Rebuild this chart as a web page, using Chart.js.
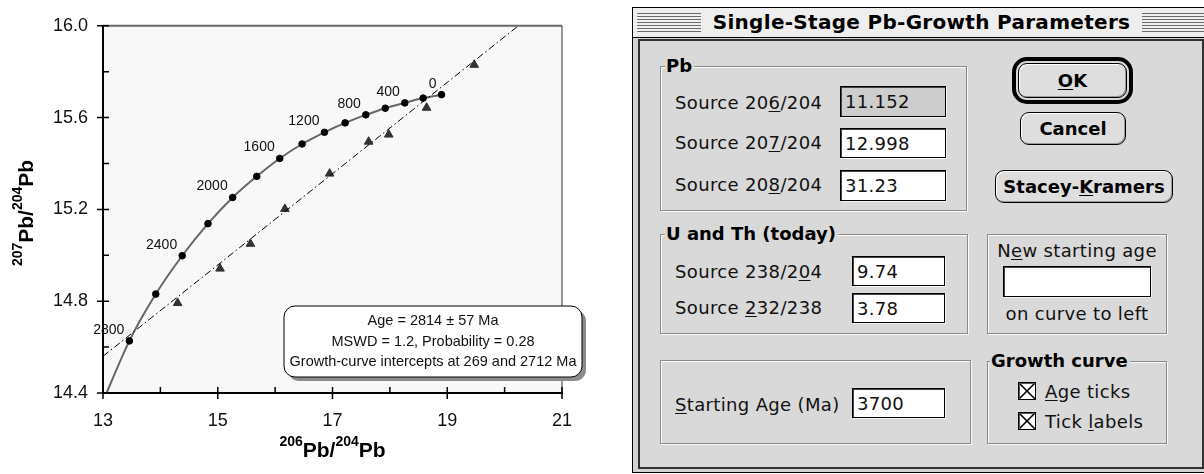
<!DOCTYPE html>
<html>
<head>
<meta charset="utf-8">
<script src="https://cdn.jsdelivr.net/npm/chart.js@4"></script>
<style>
  body { margin: 0; width: 1204px; height: 474px; position: relative; overflow: hidden; background: #fff; font-family: "DejaVu Sans", sans-serif; }
  #plot { position: absolute; left: 0; top: 0; width: 620px; height: 474px; }
  .abs { position: absolute; box-sizing: border-box; }
  #win { left: 632px; top: 7px; width: 576px; height: 466px; border: 1px solid #000; background: #d2d2d2; }
  .tbar { left: 633px; top: 8px; width: 572px; height: 30px; background: #eeeeee; border-bottom: 1px solid #000; }
  .stripes { top: 13px; height: 21px; background: repeating-linear-gradient(to bottom, #6a6a6a 0 1px, #efefef 1px 3px); }
  .title { left: 701px; top: 8px; width: 441px; height: 29px; line-height: 29px; text-align: center; font-weight: bold; font-size: 20px; letter-spacing: 0.3px; color: #000; }
  .content { left: 638px; top: 39px; width: 566px; height: 430px; border: 2px solid #303030; background: #d9d9d9; }
  .grp { border: 1px solid #8a8a8a; box-shadow: 1px 1px 0 #fafafa, inset 1px 1px 0 #fafafa; }
  .glab { font-weight: bold; font-size: 18px; line-height: 22px; background: #d9d9d9; padding: 0 2px 0 1px; color: #000; }
  .lab { font-size: 18px; line-height: 22px; letter-spacing: 0.35px; color: #111; white-space: nowrap; }
  .fld { border: 1px solid #000; box-shadow: inset 1px 1px 0 #444, 1px 1px 0 #f6f6f6; background: #fff; font-size: 18px; padding-left: 4px; letter-spacing: 0.3px; display: flex; align-items: center; color: #111; }
  .btn { border: 1.5px solid #000; border-radius: 9px; background: #dedede; box-shadow: inset 1px 1px 0 #fff, inset -1px -1px 0 #9a9a9a; display: flex; align-items: center; justify-content: center; font-weight: bold; font-size: 18px; color: #000; }
  .ring { border: 4px solid #000; border-radius: 15px; }
  .chk { width: 18px; height: 18px; border: 1px solid #000; box-shadow: inset 1px 1px 0 #555;
    background: linear-gradient(to top right, transparent calc(50% - 1px), #000 calc(50% - 0.5px), #000 calc(50% + 0.5px), transparent calc(50% + 1px)),
                linear-gradient(to bottom right, transparent calc(50% - 1px), #000 calc(50% - 0.5px), #000 calc(50% + 0.5px), transparent calc(50% + 1px)), #fff; }
  u { text-underline-offset: 2px; }
</style>
</head>
<body>
<div id="plot"><canvas id="canvas" width="620" height="474"></canvas></div>

<div id="win" class="abs"></div>
<div class="abs tbar"></div>
<div class="abs stripes" style="left:637px;width:64px"></div>
<div class="abs stripes" style="left:1142px;width:64px"></div>
<div class="abs title">Single-Stage Pb-Growth Parameters</div>
<div class="abs content"></div>

<div class="abs grp" style="left:660px;top:66px;width:307px;height:145px"></div>
<div class="abs grp" style="left:660px;top:234px;width:308px;height:100px"></div>
<div class="abs grp" style="left:660px;top:360px;width:311px;height:84px"></div>
<div class="abs grp" style="left:987px;top:234px;width:180px;height:100px"></div>
<div class="abs grp" style="left:987px;top:361px;width:180px;height:83px"></div>

<div class="abs glab" style="left:665px;top:55px">Pb</div>
<div class="abs glab" style="left:665px;top:223px">U and Th (today)</div>
<div class="abs glab" style="left:990px;top:350px">Growth curve</div>

<div class="abs lab" style="left:675px;top:92px">Source 20<u>6</u>/204</div>
<div class="abs lab" style="left:675px;top:132px">Source 20<u>7</u>/204</div>
<div class="abs lab" style="left:675px;top:174px">Source 20<u>8</u>/204</div>
<div class="abs lab" style="left:675px;top:261px">Source 238/2<u>0</u>4</div>
<div class="abs lab" style="left:675px;top:297px">Source <u>2</u>32/238</div>
<div class="abs lab" style="left:675px;top:394px"><u>S</u>tarting Age (Ma)</div>
<div class="abs lab" style="left:987px;top:240px;width:180px;text-align:center">N<u>e</u>w starting age</div>
<div class="abs lab" style="left:987px;top:303px;width:180px;text-align:center">on curve to left</div>
<div class="abs lab" style="left:1045px;top:381px"><u>A</u>ge ticks</div>
<div class="abs lab" style="left:1045px;top:411px">Tick <u>l</u>abels</div>

<div class="abs fld" style="left:840px;top:86px;width:106px;height:31px;background:#cdcdcd">11.152</div>
<div class="abs fld" style="left:840px;top:128px;width:106px;height:30px">12.998</div>
<div class="abs fld" style="left:840px;top:170px;width:106px;height:31px">31.23</div>
<div class="abs fld" style="left:852px;top:256px;width:93px;height:30px">9.74</div>
<div class="abs fld" style="left:852px;top:293px;width:93px;height:30px">3.78</div>
<div class="abs fld" style="left:852px;top:388px;width:93px;height:30px">3700</div>
<div class="abs fld" style="left:1003px;top:266px;width:148px;height:31px"></div>

<div class="abs ring" style="left:1012px;top:57px;width:121px;height:47px"></div>
<div class="abs btn" style="left:1018px;top:63px;width:109px;height:35px"><span><u>O</u>K</span></div>
<div class="abs btn" style="left:1020px;top:112px;width:106px;height:33px">Cancel</div>
<div class="abs btn" style="left:995px;top:170px;width:178px;height:33px"><span>Stacey-<u>K</u>ramers</span></div>

<div class="abs chk" style="left:1018px;top:382px"></div>
<div class="abs chk" style="left:1018px;top:412px"></div>

<script>
// growth curve (single-stage), age ticks every 200 Ma
const curveAges = [0, 200, 400, 600, 800, 1000, 1200, 1400, 1600, 1800, 2000, 2200, 2400, 2600, 2800, 3000];
const curve206 = [18.90, 18.58, 18.26, 17.92, 17.58, 17.22, 16.86, 16.47, 16.08, 15.68, 15.26, 14.83, 14.38, 13.92, 13.46, 12.96];
const curve207 = [15.700, 15.685, 15.664, 15.641, 15.612, 15.577, 15.536, 15.485, 15.422, 15.344, 15.252, 15.138, 14.998, 14.831, 14.627, 14.340];
const labelAges = [0, 400, 800, 1200, 1600, 2000, 2400, 2800];
const lastTickAge = 2800;

// measured samples
const sample206 = [19.47, 18.64, 17.98, 17.63, 16.95, 16.17, 15.57, 15.04, 14.30];
const sample207 = [15.830, 15.643, 15.526, 15.495, 15.356, 15.202, 15.050, 14.942, 14.792];

// isochron end points
const isochron206 = [13.00, 20.24];
const isochron207 = [14.56, 16.00];

const xMin = 13, xMax = 21;
const yMin = 14.4, yMax = 16.0;

const boxLines = [
  "Age = 2814 \u00b1 57 Ma",
  "MSWD = 1.2, Probability = 0.28",
  "Growth-curve intercepts at 269 and 2712 Ma"
];

const sansFont = "'Liberation Sans', Arial, sans-serif";

function pts(xs, ys) {
  return xs.map((x, i) => ({ x: x, y: ys[i] }));
}

function isMajorY(v) {
  return Math.round(v * 10) % 4 === 0;
}

const plotFrame = {
  id: "plotFrame",
  beforeDraw(chart) {
    const { ctx, chartArea: a } = chart;
    ctx.save();
    ctx.fillStyle = "#f8f8f8";
    ctx.fillRect(a.left, a.top, a.right - a.left, a.bottom - a.top);
    ctx.restore();
  },
  afterDraw(chart) {
    const { ctx, chartArea: a, scales } = chart;
    const x = scales.x, y = scales.y;
    ctx.save();
    // top and right frame
    ctx.strokeStyle = "#6a6a6a";
    ctx.lineWidth = 2;
    ctx.beginPath();
    ctx.moveTo(a.left, a.top);
    ctx.lineTo(a.right, a.top);
    ctx.stroke();
    ctx.strokeStyle = "#333";
    ctx.lineWidth = 1;
    ctx.beginPath();
    ctx.moveTo(a.right, a.top);
    ctx.lineTo(a.right, a.bottom);
    ctx.stroke();

    // tick marks
    ctx.strokeStyle = "#000";
    ctx.lineWidth = 1.5;
    ctx.beginPath();
    x.ticks.forEach(t => {
      const px = x.getPixelForValue(t.value);
      const major = t.value % 2 === 1;
      ctx.moveTo(px, a.bottom - 6);
      ctx.lineTo(px, major ? a.bottom + 6 : a.bottom);
    });
    y.ticks.forEach(t => {
      const py = y.getPixelForValue(t.value);
      ctx.moveTo(isMajorY(t.value) ? a.left - 6 : a.left, py);
      ctx.lineTo(a.left + 6, py);
    });
    ctx.stroke();

    // age labels on the growth curve
    const meta = chart.getDatasetMeta(1);
    ctx.fillStyle = "#111";
    ctx.font = "14px " + sansFont;
    ctx.textAlign = "right";
    ctx.textBaseline = "middle";
    labelAges.forEach(age => {
      const el = meta.data[curveAges.indexOf(age)];
      ctx.fillText(String(age), el.x - 5, el.y - 11);
    });

    // axis titles with superscripts
    drawIsoTitle(ctx, (a.left + a.right) / 2, 457, "206", "204", 0);
    drawIsoTitle(ctx, 33, 213, "207", "204", -Math.PI / 2);

    // result box
    const bx = 284, by = a.bottom - 87, bw = a.right + 20 - 284, bh = 71;
    ctx.fillStyle = "#8c8c8c";
    ctx.beginPath();
    ctx.roundRect(bx + 4, by + 4, bw, bh, 11);
    ctx.fill();
    ctx.fillStyle = "#fff";
    ctx.strokeStyle = "#000";
    ctx.lineWidth = 1;
    ctx.beginPath();
    ctx.roundRect(bx, by, bw, bh, 11);
    ctx.fill();
    ctx.stroke();
    ctx.fillStyle = "#111";
    ctx.font = "14.5px " + sansFont;
    ctx.textAlign = "center";
    ctx.textBaseline = "middle";
    boxLines.forEach((line, i) => {
      ctx.fillText(line, bx + bw / 2, by + 15 + i * 20.5);
    });
    ctx.restore();
  }
};

function drawIsoTitle(ctx, cx, baseY, top, bottom, rot) {
  const big = "bold 21px " + sansFont;
  const small = "bold 14px " + sansFont;
  const parts = [[top, small], ["Pb/", big], [bottom, small], ["Pb", big]];
  let total = 0;
  parts.forEach(p => { ctx.font = p[1]; total += ctx.measureText(p[0]).width; });
  ctx.save();
  ctx.translate(cx, baseY);
  ctx.rotate(rot);
  ctx.fillStyle = "#000";
  ctx.textAlign = "left";
  ctx.textBaseline = "alphabetic";
  let px = -total / 2;
  parts.forEach(p => {
    ctx.font = p[1];
    ctx.fillText(p[0], px, p[1] === small ? -11 : 0);
    px += ctx.measureText(p[0]).width;
  });
  ctx.restore();
}

const ctx = document.getElementById("canvas").getContext("2d");

new Chart(ctx, {
  type: "scatter",
  data: {
    datasets: [
      {
        data: pts(isochron206, isochron207),
        showLine: true,
        borderColor: "#000",
        borderWidth: 1,
        borderDash: [7, 3, 1.5, 3],
        pointRadius: 0,
        clip: 0
      },
      {
        data: pts(curve206, curve207),
        showLine: true,
        tension: 0.3,
        borderColor: "#666",
        borderWidth: 2,
        pointRadius: c => (curveAges[c.dataIndex] <= lastTickAge ? 3.3 : 0),
        pointBackgroundColor: "#000",
        pointBorderColor: "#000",
        pointBorderWidth: 1,
        clip: 0
      },
      {
        data: pts(sample206, sample207),
        pointStyle: "triangle",
        pointRadius: 5,
        pointBackgroundColor: "#333",
        pointBorderColor: "#333",
        pointBorderWidth: 1,
        clip: 0
      }
    ]
  },
  options: {
    responsive: false,
    animation: false,
    events: [],
    layout: { padding: { left: 0, top: 14, right: 58, bottom: 0 } },
    plugins: { legend: { display: false }, tooltip: { enabled: false } },
    scales: {
      x: {
        type: "linear",
        min: xMin,
        max: xMax,
        afterFit: s => { s.height = 81; },
        grid: { display: false, drawTicks: false },
        border: { display: true, color: "#000", width: 2 },
        ticks: {
          stepSize: 1,
          autoSkip: false,
          maxRotation: 0,
          padding: 17,
          color: "#111",
          font: { family: sansFont, size: 18 },
          callback: v => (v % 2 === 1 ? String(v) : "")
        }
      },
      y: {
        type: "linear",
        min: yMin,
        max: yMax,
        afterFit: s => { s.width = 103; },
        grid: { display: false, drawTicks: false },
        border: { display: true, color: "#000", width: 2 },
        ticks: {
          stepSize: 0.2,
          autoSkip: false,
          padding: 15,
          color: "#111",
          font: { family: sansFont, size: 18 },
          callback: v => (isMajorY(v) ? v.toFixed(1) : "")
        }
      }
    }
  },
  plugins: [plotFrame]
});
</script>
</body>
</html>
